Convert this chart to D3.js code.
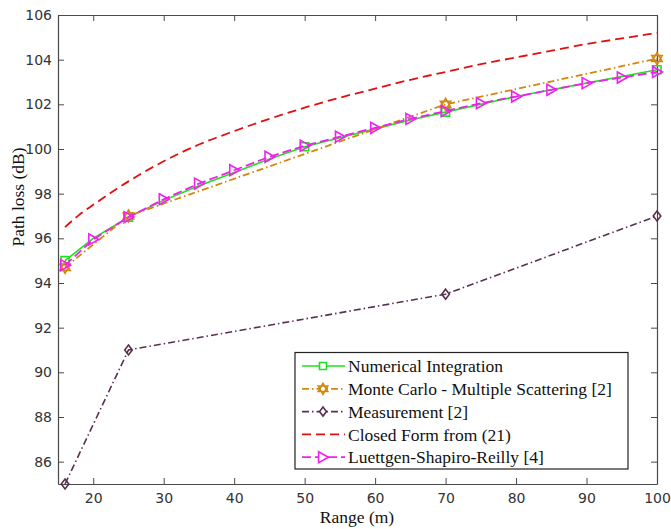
<!DOCTYPE html>
<html>
<head>
<meta charset="utf-8">
<script src="https://cdn.jsdelivr.net/npm/d3@7"></script>
<style>
  html, body { margin: 0; padding: 0; background: #fff; }
  svg { display: block; }
</style>
</head>
<body>
<svg id="chart" width="671" height="529"></svg>
<script>
// Path loss versus range, five models / measurements
const rangeNI = [16, 20, 25, 30, 35, 40, 45, 50, 55, 60, 65, 70, 75, 80, 85, 90, 95, 100];
const lossNI  = [95.0, 96.0, 96.95, 97.7, 98.35, 98.95, 99.55, 100.1, 100.5, 100.9, 101.3, 101.65, 102.0, 102.35, 102.65, 102.95, 103.25, 103.55];
const markNI  = [16, 25, 50, 70, 100];

const rangeMC = [16, 25, 70, 100];
const lossMC  = [94.7, 97.0, 102.0, 104.05];

const rangeMeas = [16, 25, 70, 100];
const lossMeas  = [85.0, 91.0, 93.5, 97.0];

const rangeCF = [16, 18, 20, 25, 30, 35, 40, 45, 50, 55, 60, 65, 70, 75, 80, 85, 90, 95, 100];
const lossCF  = [96.5, 97.05, 97.5, 98.55, 99.45, 100.2, 100.8, 101.35, 101.85, 102.3, 102.7, 103.1, 103.45, 103.8, 104.1, 104.4, 104.7, 104.95, 105.2];

const rangeLSR = [16, 20, 25, 30, 35, 40, 45, 50, 55, 60, 65, 70, 75, 80, 85, 90, 95, 100];
const lossLSR  = [94.8, 95.95, 96.95, 97.75, 98.45, 99.05, 99.65, 100.15, 100.55, 100.95, 101.35, 101.7, 102.05, 102.35, 102.65, 102.95, 103.2, 103.45];

const xTicks = [20, 30, 40, 50, 60, 70, 80, 90, 100];
const yTicks = [86, 88, 90, 92, 94, 96, 98, 100, 102, 104, 106];

const seriesNames = [
  "Numerical Integration",
  "Monte Carlo - Multiple Scattering [2]",
  "Measurement [2]",
  "Closed Form from (21)",
  "Luettgen-Shapiro-Reilly [4]"
];

const SERIF = "Liberation Serif, DejaVu Serif, Times New Roman, Times, serif";
const SANS = "DejaVu Sans, Verdana, sans-serif";

const svg = d3.select("#chart");
const mLeft = 58, mRight = 657, mTop = 15, mBottom = 484;

const x = d3.scaleLinear().domain([15, 100]).range([mLeft, mRight]);
const y = d3.scaleLinear().domain([85, 106]).range([mBottom, mTop]);

const axisColor = "#4a4a4a";

// marker shapes
function squarePath(s) { const h = s / 2; return `M${-h},${-h}H${h}V${h}H${-h}Z`; }
function diamondPath(s) { const w = s * 0.38, h = s / 2; return `M0,${-h}L${w},0L0,${h}L${-w},0Z`; }
function triRightPath(s) { const h = s / 2; return `M${-h * 0.8},${-h}L${h},0L${-h * 0.8},${h}Z`; }
function hexagramPath(s) {
  const r = s / 2;
  const pt = a => [r * Math.cos(a), r * Math.sin(a)];
  const tri = off => [0, 1, 2].map(i => pt(off + i * 2 * Math.PI / 3));
  const t1 = tri(-Math.PI / 2), t2 = tri(Math.PI / 2);
  const p = t => `M${t[0]}L${t[1]}L${t[2]}Z`;
  return p(t1) + p(t2);
}

const styles = [
  { color: "#1ee01e", dash: null, width: 1.6, marker: squarePath, msize: 8, lsize: 7 },
  { color: "#d2870f", dash: "7,3,1.5,3", width: 1.8, marker: hexagramPath, msize: 12, lsize: 11 },
  { color: "#5a3050", dash: "7,3,1.5,3", width: 1.6, marker: diamondPath, msize: 10, lsize: 9 },
  { color: "#e01010", dash: "9,5", width: 1.8, marker: null, msize: 0, lsize: 0 },
  { color: "#f020f0", dash: "9,4", width: 1.8, marker: triRightPath, msize: 11, lsize: 11 }
];

const series = [
  { xs: rangeNI, ys: lossNI, marks: markNI },
  { xs: rangeMC, ys: lossMC, marks: rangeMC },
  { xs: rangeMeas, ys: lossMeas, marks: rangeMeas },
  { xs: rangeCF, ys: lossCF, marks: [] },
  { xs: rangeLSR, ys: lossLSR, marks: rangeLSR }
];

// axes box with inward ticks on all four sides
const gx = svg.append("g").attr("transform", `translate(0,${mBottom})`)
  .call(d3.axisBottom(x).tickValues(xTicks).tickSizeInner(-6).tickSizeOuter(0).tickPadding(8));
const gy = svg.append("g").attr("transform", `translate(${mLeft},0)`)
  .call(d3.axisLeft(y).tickValues(yTicks).tickSizeInner(-6).tickSizeOuter(0).tickPadding(6));
const gt = svg.append("g").attr("transform", `translate(0,${mTop})`)
  .call(d3.axisTop(x).tickValues(xTicks).tickSizeInner(-6).tickSizeOuter(0).tickFormat(""));
const gr = svg.append("g").attr("transform", `translate(${mRight},0)`)
  .call(d3.axisRight(y).tickValues(yTicks).tickSizeInner(-6).tickSizeOuter(0).tickFormat(""));
[gx, gy, gt, gr].forEach(g => {
  g.attr("font-family", null).attr("font-size", null);
  g.selectAll(".domain").attr("stroke", axisColor).attr("stroke-width", 1.2);
  g.selectAll(".tick line").attr("stroke", axisColor).attr("stroke-width", 1);
  g.selectAll(".tick text").style("font-family", SANS).style("font-size", "14px").attr("fill", "#333");
});
gx.selectAll(".tick text").attr("dy", "0.75em");

const plot = svg.append("g");
const line = d3.line().x(d => x(d[0])).y(d => y(d[1]));

series.forEach((s, i) => {
  const st = styles[i];
  const pts = s.xs.map((v, k) => [v, s.ys[k]]);
  plot.append("path")
    .attr("d", (i === 3 ? line.curve(d3.curveMonotoneX) : line.curve(d3.curveLinear))(pts))
    .attr("fill", "none")
    .attr("stroke", st.color)
    .attr("stroke-width", st.width)
    .attr("stroke-dasharray", st.dash);
  if (st.marker) {
    const mpts = pts.filter(p => s.marks.includes(p[0]));
    plot.selectAll(null).data(mpts).enter().append("path")
      .attr("transform", d => `translate(${x(d[0])},${y(d[1])})`)
      .attr("d", st.marker(st.msize))
      .attr("fill", "none")
      .attr("stroke", st.color)
      .attr("stroke-width", 1.6);
  }
});

// axis titles
svg.append("text")
  .attr("x", 357).attr("y", 523)
  .attr("text-anchor", "middle")
  .style("font-family", SERIF).style("font-size", "17.5px").attr("fill", "#111")
  .text("Range (m)");
svg.append("text")
  .attr("transform", "translate(24,197) rotate(-90)")
  .attr("text-anchor", "middle")
  .style("font-family", SERIF).style("font-size", "17.5px").attr("fill", "#111")
  .text("Path loss (dB)");

// legend
const lg = svg.append("g");
lg.append("rect")
  .attr("x", 295).attr("y", 352.5).attr("width", 333).attr("height", 116.5)
  .attr("fill", "#fff").attr("stroke", "#222").attr("stroke-width", 1.2);
seriesNames.forEach((name, i) => {
  const st = styles[i];
  const cy = 366 + i * 22.8;
  lg.append("line")
    .attr("x1", 302).attr("x2", 345).attr("y1", cy).attr("y2", cy)
    .attr("stroke", st.color).attr("stroke-width", st.width)
    .attr("stroke-dasharray", st.dash);
  if (st.marker) {
    lg.append("path")
      .attr("transform", `translate(323,${cy})`)
      .attr("d", st.marker(st.lsize))
      .attr("fill", "#fff").attr("stroke", st.color).attr("stroke-width", 1.6);
  }
  lg.append("text")
    .attr("x", 348).attr("y", cy).attr("dy", "0.35em")
    .style("font-family", SERIF).style("font-size", "17.5px").attr("fill", "#111")
    .text(name);
});
</script>
</body>
</html>
